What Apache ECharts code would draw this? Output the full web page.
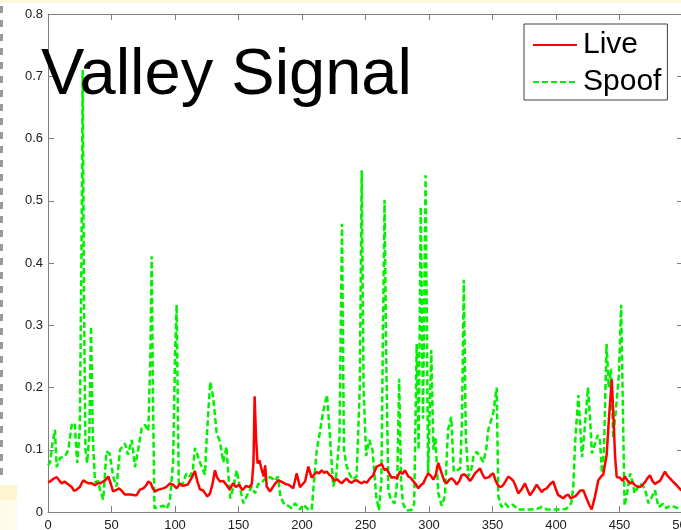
<!DOCTYPE html>
<html>
<head>
<meta charset="utf-8">
<title>Valley Signal</title>
<script src="https://cdn.jsdelivr.net/npm/echarts@6/dist/echarts.min.js"></script>
<style>
  html, body { margin: 0; padding: 0; background: #ffffff; }
  #chart { width: 681px; height: 530px; }
</style>
</head>
<body>
<div id="chart"></div>
<script>
// Valley signal of live vs. spoofed samples, [sample index, value]
const live = [
  [0, 0.048], [1.6, 0.049], [4, 0.053], [6.9, 0.056], [9, 0.05], [10.8, 0.046], [13, 0.049], [15.5, 0.045],
  [18.7, 0.040], [20.5, 0.034], [22.6, 0.036], [25, 0.040], [27.8, 0.051], [30, 0.048], [32, 0.046], [34.4, 0.046],
  [37, 0.043], [39, 0.046], [41, 0.046], [43.5, 0.049], [45.5, 0.052], [47.5, 0.057], [49.5, 0.045], [51.2, 0.033],
  [53.5, 0.035], [56, 0.038], [58.5, 0.033], [60.5, 0.028], [62, 0.027], [65, 0.028], [68, 0.027], [69.8, 0.027],
  [72.4, 0.036], [75, 0.038], [77, 0.042], [79, 0.049], [81, 0.046], [82.5, 0.038], [84.3, 0.033], [87, 0.036],
  [90.6, 0.038], [93, 0.040], [96, 0.046], [98.5, 0.044], [101.3, 0.038], [104, 0.046], [106, 0.042], [107.9, 0.043],
  [110, 0.044], [113.1, 0.055], [115.7, 0.066], [117.5, 0.05], [119.7, 0.036], [122, 0.035], [123.5, 0.032], [125.5, 0.025],
  [127.6, 0.03], [129.5, 0.045], [131.5, 0.067], [133, 0.056], [135.4, 0.049], [138, 0.05], [140.7, 0.043], [143, 0.036],
  [145.7, 0.046], [148, 0.04], [150.5, 0.044], [153, 0.035], [156, 0.042], [158.5, 0.04], [160.5, 0.045], [161.8, 0.08],
  [162.7, 0.186], [163.8, 0.12], [165, 0.078], [166.5, 0.083], [168, 0.07], [169.8, 0.057], [171, 0.075], [172.2, 0.041],
  [174.8, 0.033], [177, 0.04], [179, 0.046], [181.3, 0.051], [184.5, 0.048], [187, 0.045], [189.2, 0.044], [193.1, 0.038],
  [195.8, 0.062], [198.4, 0.04], [202.4, 0.049], [205, 0.073], [207.6, 0.055], [209.5, 0.06], [211.6, 0.064], [213.5, 0.062],
  [215.5, 0.067], [217.5, 0.063], [219.4, 0.065], [221.5, 0.06], [223.4, 0.057], [225.5, 0.05], [227.3, 0.053], [229.5, 0.049],
  [231.3, 0.046], [233, 0.05], [235.2, 0.054], [237, 0.049], [239.1, 0.047], [241, 0.05], [243, 0.051], [245, 0.048],
  [247, 0.046], [249, 0.049], [251, 0.047], [253.5, 0.054], [256, 0.059], [258.8, 0.073], [261, 0.075], [262.8, 0.077],
  [264.8, 0.068], [266.7, 0.069], [268.6, 0.062], [270.6, 0.055], [272.6, 0.056], [274.6, 0.054], [277.2, 0.065], [279, 0.061],
  [281.1, 0.067], [283.7, 0.057], [285.5, 0.055], [287.4, 0.05], [289.5, 0.045], [291.6, 0.038], [293.5, 0.043], [295.5, 0.046],
  [297.5, 0.055], [299.4, 0.062], [301.5, 0.058], [303.4, 0.052], [305.4, 0.06], [307.3, 0.079], [310, 0.062], [312, 0.05],
  [313.9, 0.046], [316, 0.052], [317.9, 0.054], [320, 0.05], [321.8, 0.044], [324, 0.05], [325.7, 0.059], [327.7, 0.061],
  [329.7, 0.057], [332.3, 0.05], [334.2, 0.055], [336.2, 0.062], [338.2, 0.066], [340.2, 0.07], [342.2, 0.06], [344.1, 0.054],
  [345.5, 0.052], [347.2, 0.056], [349, 0.06], [350.6, 0.062], [352.5, 0.05], [354.6, 0.042], [356.5, 0.04], [358.3, 0.043],
  [360.5, 0.05], [362.4, 0.057], [364.4, 0.054], [366.4, 0.05], [368.5, 0.04], [370.3, 0.03], [372.8, 0.036], [375.6, 0.046],
  [377.5, 0.036], [379.5, 0.027], [382, 0.034], [384.8, 0.044], [386.8, 0.038], [388.7, 0.032], [390.5, 0.036], [392.7, 0.038],
  [395.5, 0.045], [397.9, 0.049], [400, 0.036], [401.8, 0.027], [403.5, 0.025], [405.7, 0.022], [407.5, 0.026], [409.7, 0.028],
  [411.5, 0.022], [412.6, 0.02], [415.7, 0.026], [418.9, 0.034], [421.5, 0.035], [424.4, 0.02], [426.5, 0.01], [428.1, 0.004],
  [430.7, 0.025], [433.3, 0.051], [435.5, 0.057], [437.2, 0.06], [439.9, 0.092], [441.7, 0.15], [443.9, 0.213], [445.3, 0.15],
  [446.5, 0.09], [447.8, 0.056], [450.4, 0.055], [452.5, 0.05], [454.3, 0.057], [456.5, 0.05], [458.3, 0.046], [460, 0.048],
  [462.2, 0.043], [464, 0.041], [466.1, 0.04], [468, 0.043], [470.1, 0.048], [472, 0.054], [474, 0.059], [475.9, 0.05],
  [477.9, 0.045], [480, 0.048], [481.9, 0.05], [484, 0.058], [485.8, 0.065], [487.8, 0.058], [489.8, 0.054], [491.5, 0.05],
  [493, 0.048], [495, 0.043], [496.3, 0.04], [498, 0.036], [500, 0.033]
];

const spoof = [
  [0, 0.075], [1.6, 0.079], [3.5, 0.11], [5.5, 0.132], [6.8, 0.072], [9.4, 0.087], [13.4, 0.089], [16, 0.1],
  [18.7, 0.14], [21, 0.143], [23, 0.079], [25, 0.132], [26.3, 0.4], [27.3, 0.71], [28.3, 0.35], [29.5, 0.1],
  [30.8, 0.079], [32.5, 0.12], [33.9, 0.298], [35.3, 0.12], [37, 0.048], [39.5, 0.05], [41, 0.035], [43.5, 0.02],
  [46, 0.097], [48.5, 0.094], [51.4, 0.056], [54, 0.041], [56.7, 0.1], [60.6, 0.11], [63, 0.092], [66, 0.116],
  [68.5, 0.072], [71, 0.1], [73.8, 0.135], [76.4, 0.14], [79, 0.13], [80.6, 0.25], [81.6, 0.411], [82.6, 0.2],
  [83.8, 0.006], [86.9, 0.008], [90.8, 0.01], [93.5, 0.005], [96, 0.018], [98.5, 0.08], [100, 0.25], [101.3, 0.333],
  [102.3, 0.15], [103, 0.041], [106, 0.045], [109, 0.062], [111.5, 0.057], [114, 0.066], [115.7, 0.103], [118, 0.09],
  [120.5, 0.075], [123.6, 0.06], [125, 0.12], [126.5, 0.17], [127.8, 0.209], [130, 0.185], [132.8, 0.127], [135.4, 0.113],
  [138, 0.08], [140.5, 0.105], [142, 0.06], [143.5, 0.022], [146, 0.04], [148.6, 0.067], [151, 0.04], [153.8, 0.014],
  [157.5, 0.03], [160.4, 0.041], [163, 0.03], [165.5, 0.045], [168, 0.046], [172, 0.057], [176, 0.055], [178.6, 0.05],
  [181, 0.057], [183, 0.025], [186, 0.012], [189, 0.01], [192, 0.006], [194.5, 0.014], [198.4, 0.004], [201, 0.012],
  [205, 0.004], [207.6, 0.004], [209.5, 0.05], [211.6, 0.1], [214, 0.127], [216.5, 0.16], [219.7, 0.188], [222, 0.121],
  [224.6, 0.041], [227, 0.06], [229.5, 0.12], [231.5, 0.463], [233, 0.1], [235, 0.075], [237.6, 0.06], [240, 0.052],
  [243, 0.057], [245.5, 0.2], [247, 0.549], [248.5, 0.2], [250.5, 0.09], [253, 0.116], [255.5, 0.1], [258.5, 0.024],
  [260.5, 0.003], [262.5, 0.05], [263.8, 0.3], [265, 0.501], [266.3, 0.25], [268, 0.035], [270, 0.019], [273, 0.014],
  [275, 0.05], [276.5, 0.214], [278, 0.05], [279.5, 0.014], [282, 0.003], [286, 0.003], [288.3, 0.012], [290.3, 0.27],
  [291.8, 0.1], [293.5, 0.49], [295.3, 0.15], [297.3, 0.541], [299.3, 0.06], [301.8, 0.26], [303.5, 0.1], [305, 0.12],
  [307.3, 0.03], [310, 0.01], [312.5, 0.025], [315, 0.132], [317.5, 0.153], [319.5, 0.065], [322, 0.067], [324.6, 0.07],
  [326, 0.15], [327.4, 0.373], [329, 0.12], [331, 0.057], [333.5, 0.07], [335, 0.089], [337.5, 0.097], [340, 0.09],
  [342.8, 0.08], [345, 0.1], [346.7, 0.132], [348.5, 0.145], [350.6, 0.159], [353.3, 0.2], [354.6, 0.025], [357, 0.008],
  [359.8, 0.014], [362.4, 0.008], [366, 0.012], [370, 0.004], [375, 0.004], [380, 0.004], [385, 0.005], [388.7, 0.008],
  [393, 0.004], [398, 0.004], [403, 0.004], [408, 0.005], [412, 0.014], [413.6, 0.04], [415, 0.11], [417.6, 0.188],
  [419, 0.14], [420.5, 0.088], [422, 0.12], [425.2, 0.2], [426.8, 0.15], [428.3, 0.094], [430.7, 0.11], [433, 0.124],
  [434.6, 0.115], [436.2, 0.063], [437.8, 0.1], [439.8, 0.27], [441.5, 0.2], [443.2, 0.23], [445, 0.12], [447, 0.16],
  [449.5, 0.22], [451.3, 0.333], [452.8, 0.15], [454, 0.01], [456, 0.03], [458.3, 0.062], [460, 0.05], [462, 0.03],
  [464, 0.038], [466, 0.046], [470, 0.038], [472.7, 0.014], [475.4, 0.024], [478, 0.035], [480.6, 0.008], [484.5, 0.013],
  [487, 0.006], [489.8, 0.01], [493.7, 0.008], [497, 0.005], [500, 0.005]
];

const seriesNames = ['Live', 'Spoof'];
const titleText = 'Valley Signal';
const xRange = { min: 0, max: 500, interval: 50 };
const yRange = { min: 0, max: 0.8, interval: 0.1 };

const FONT = 'Liberation Sans, Arial, Helvetica, sans-serif';
const AXIS_GREY = '#808080';

const chart = echarts.init(document.getElementById('chart'), null, { renderer: 'canvas' });

const frameAxis = (extra) => Object.assign({
  type: 'value',
  axisLine: { show: true, onZero: false, lineStyle: { color: AXIS_GREY, width: 1 } },
  axisTick: { show: true, inside: true, length: 6, lineStyle: { color: AXIS_GREY, width: 1 } },
  splitLine: { show: false },
  axisLabel: { show: false }
}, extra);

chart.setOption({
  backgroundColor: '#ffffff',
  animation: false,
  title: {
    text: titleText,
    left: 41,
    top: 44,
    padding: 0,
    textStyle: { fontFamily: FONT, fontSize: 65, fontWeight: 'normal', color: '#000000' }
  },
  legend: {
    data: seriesNames,
    orient: 'vertical',
    left: 524,
    top: 24,
    padding: [6, 6, 3, 8],
    itemGap: 7,
    itemWidth: 44,
    itemHeight: 28,
    backgroundColor: '#ffffff',
    borderColor: '#404040',
    borderWidth: 1,
    itemStyle: { opacity: 0 },
    textStyle: { fontFamily: FONT, fontSize: 30, color: '#000000', padding: [0, 0, 0, 1] }
  },
  grid: { left: 48, top: 14, right: -2, bottom: 18, containLabel: false, outerBoundsMode: 'none' },
  xAxis: [
    frameAxis({
      min: xRange.min, max: xRange.max, interval: xRange.interval, position: 'bottom',
      axisLabel: { show: true, margin: 7, fontFamily: FONT, fontSize: 13, color: '#202020' }
    }),
    frameAxis({ min: xRange.min, max: xRange.max, interval: xRange.interval, position: 'top' })
  ],
  yAxis: [
    frameAxis({
      min: yRange.min, max: yRange.max, interval: yRange.interval, position: 'left',
      axisLabel: { show: true, margin: 5, fontFamily: FONT, fontSize: 13, color: '#202020' }
    }),
    frameAxis({ min: yRange.min, max: yRange.max, interval: yRange.interval, position: 'right' })
  ],
  series: [
    {
      name: seriesNames[0], type: 'line', data: live, symbol: 'none', z: 3,
      lineStyle: { color: '#ff0000', width: 2.5 }, itemStyle: { color: '#ff0000' }
    },
    {
      name: seriesNames[1], type: 'line', data: spoof, symbol: 'none', z: 2,
      lineStyle: { color: '#00f000', width: 2.5, type: [6, 3] }, itemStyle: { color: '#00f000' }
    }
  ],
  graphic: [
    { type: 'rect', silent: true, z: -10, shape: { x: 0, y: 0, width: 681, height: 3 }, style: { fill: '#fcf8dc' } },
    { type: 'rect', silent: true, z: -10, shape: { x: 0, y: 485, width: 17, height: 15 }, style: { fill: '#fcf5cf' } },
    { type: 'rect', silent: true, z: -10, shape: { x: 0, y: 500, width: 17, height: 30 }, style: { fill: '#fffbea' } },
    { type: 'line', silent: true, z: -10, shape: { x1: 1.5, y1: 6, x2: 1.5, y2: 478 },
      style: { stroke: '#9a9a9a', lineWidth: 3, lineDash: [7, 7] } }
  ]
});
</script>
</body>
</html>
